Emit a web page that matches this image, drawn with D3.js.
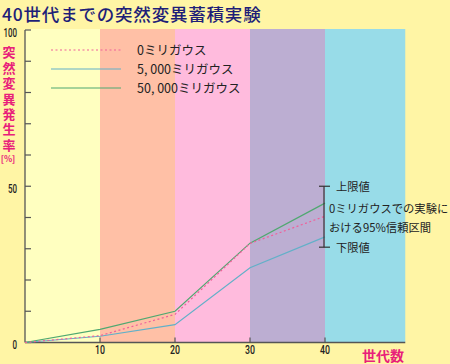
<!DOCTYPE html>
<html><head><meta charset="utf-8">
<script src="https://cdn.jsdelivr.net/npm/d3@7"></script>
<style>body{margin:0;background:#FFF5A5;}svg{display:block;}</style>
</head><body>
<script>
const generations = [0, 10, 20, 30, 40];
const seriesNames = ["0ミリガウス", "5, 000ミリガウス", "50, 000ミリガウス"];
const values0 = [0, 2.2, 9.0, 31.7, 40.4];
const values5000 = [0, 2.0, 5.7, 23.9, 33.8];
const values50000 = [0, 4.2, 10.0, 31.8, 44.6];
const bandEdges = [0, 10, 20, 30, 40, 50.7];
const bandColors = ["#FFFFC0", "#FFC0A6", "#FFBBDD", "#BCAED2", "#98DCE8"];
const yTicks = [0, 10, 20, 30, 40, 50, 60, 70, 80, 90, 100];
const yLabels = [0, 50, 100];
const xTicks = [10, 20, 30, 40];
const ciUpper = 50, ciLower = 30.5;
const title = "40世代までの突然変異蓄積実験";
const yTitle = "突然変異発生率";

const W = 450, H = 364;
const font = "'Noto Sans CJK JP', sans-serif";
const numFont = "Roboto, 'Liberation Sans', sans-serif";
const svg = d3.select("body").append("svg").attr("width", W).attr("height", H);
svg.append("rect").attr("width", W).attr("height", H).attr("fill", "#FFF5A5");

const x = d3.scaleLinear().domain([0, 40]).range([25, 325]);
const y = d3.scaleLinear().domain([0, 100]).range([342.5, 30]);

// bands
svg.selectAll("rect.band").data(bandColors).enter().append("rect")
  .attr("x", (d, i) => x(bandEdges[i]))
  .attr("width", (d, i) => x(bandEdges[i + 1]) - x(bandEdges[i]))
  .attr("y", 29).attr("height", y(0) - 29)
  .attr("fill", d => d);

// title
svg.append("text").attr("x", 2).attr("y", 20.5).text(title)
  .attr("font-family", font).attr("font-size", 17.5).attr("font-weight", 500)
  .style("letter-spacing", "0.8px")
  .attr("fill", "#1E1E78");

// axes
const axCol = "#555";
svg.append("line").attr("x1", x(0)).attr("x2", x(0)).attr("y1", y(100)).attr("y2", y(0))
  .attr("stroke", axCol).attr("stroke-width", 1.3);
svg.append("line").attr("x1", x(0)).attr("x2", x(bandEdges[5])).attr("y1", y(0)).attr("y2", y(0))
  .attr("stroke", axCol).attr("stroke-width", 1.3);
svg.selectAll("line.yt").data(yTicks).enter().append("line")
  .attr("x1", x(0)).attr("x2", x(0) + 6).attr("y1", d => y(d)).attr("y2", d => y(d))
  .attr("stroke", axCol).attr("stroke-width", 1.2);
svg.selectAll("line.xt").data(xTicks).enter().append("line")
  .attr("x1", d => x(d)).attr("x2", d => x(d)).attr("y1", y(0)).attr("y2", y(0) - 5)
  .attr("stroke", axCol).attr("stroke-width", 1.2);

function condense(sel, f) {
  sel.each(function() {
    const w = this.getComputedTextLength();
    d3.select(this).attr("textLength", w * f).attr("lengthAdjust", "spacingAndGlyphs");
  });
}
const yl = svg.selectAll("text.yl").data(yLabels).enter().append("text")
  .attr("x", 17).attr("y", d => y(d) + 6.5).attr("text-anchor", "end")
  .attr("font-family", numFont).attr("font-size", 12).attr("font-weight", 500).attr("fill", "#222")
  .text(d => d);
condense(yl, 0.66);
const xl = svg.selectAll("text.xl").data(xTicks).enter().append("text")
  .attr("x", d => x(d)).attr("y", 354).attr("text-anchor", "middle")
  .attr("font-family", numFont).attr("font-size", 12.5).attr("font-weight", 500).attr("fill", "#222")
  .text(d => d);
condense(xl, 0.7);

// y title (vertical)
svg.append("text").attr("x", 9).attr("y", 46)
  .style("writing-mode", "vertical-rl").style("letter-spacing", "2.4px")
  .attr("font-family", font).attr("font-size", 13).attr("font-weight", "bold")
  .attr("fill", "#E8207A").text(yTitle);
svg.append("text").attr("x", 8).attr("y", 162).attr("text-anchor", "middle")
  .attr("font-family", font).attr("font-size", 8.5).attr("font-weight", "bold")
  .attr("fill", "#E8207A").text("[%]");
svg.append("text").attr("x", 362).attr("y", 361)
  .attr("font-family", font).attr("font-size", 14).attr("font-weight", "bold")
  .attr("fill", "#E8207A").text("世代数");

// lines
const series = [
  {name: seriesNames[0], vals: values0, color: "#F0609A", dash: "2,2.5"},
  {name: seriesNames[1], vals: values5000, color: "#62B0C8", dash: null},
  {name: seriesNames[2], vals: values50000, color: "#4FA870", dash: null}
];
const line = d3.line().x((d, i) => x(generations[i])).y(d => y(d));
[series[1], series[2], series[0]].forEach(s => {
  svg.append("path").attr("d", line(s.vals)).attr("fill", "none")
    .attr("stroke", s.color).attr("stroke-width", 1.2)
    .attr("stroke-dasharray", s.dash);
});

// legend
series.forEach((s, i) => {
  const ly = 50 + i * 19;
  svg.append("line").attr("x1", 51).attr("x2", 121).attr("y1", ly).attr("y2", ly)
    .attr("stroke", s.color).attr("stroke-width", 1.2).attr("stroke-dasharray", s.dash);
  svg.append("text").attr("x", 137).attr("y", ly + 5).text(s.name)
    .attr("font-family", font).attr("font-size", 12.5).attr("fill", "#222");
});

// CI bar
const cx = x(40) - 1;
svg.append("line").attr("x1", cx).attr("x2", cx).attr("y1", y(ciUpper)).attr("y2", y(ciLower))
  .attr("stroke", "#333").attr("stroke-width", 1.2);
[ciUpper, ciLower].forEach(v => {
  svg.append("line").attr("x1", cx - 5).attr("x2", cx + 6).attr("y1", y(v)).attr("y2", y(v))
    .attr("stroke", "#333").attr("stroke-width", 1.2);
});
const ciText = [
  {t: "上限値", x: 336, y: y(ciUpper) + 5},
  {t: "0ミリガウスでの実験に", x: 329, y: 213},
  {t: "おける95%信頼区間", x: 329, y: 232},
  {t: "下限値", x: 336, y: y(ciLower) + 5}
];
svg.selectAll("text.ci").data(ciText).enter().append("text")
  .attr("x", d => d.x).attr("y", d => d.y).text(d => d.t)
  .attr("font-family", font).attr("font-size", 11.3).attr("fill", "#222");
</script>
</body></html>
